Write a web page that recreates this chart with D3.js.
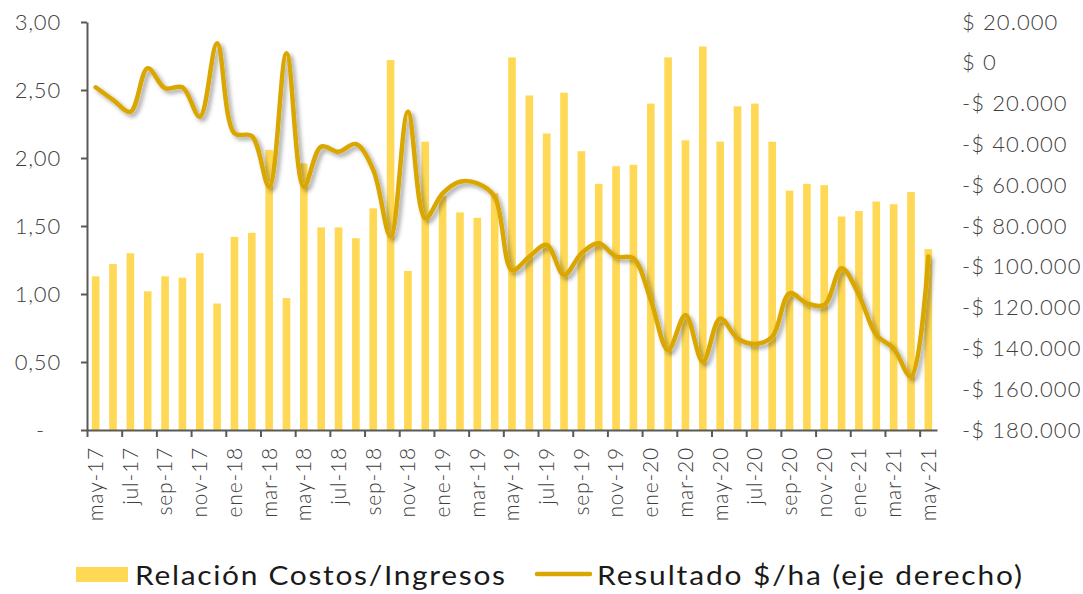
<!DOCTYPE html>
<html>
<head>
<meta charset="utf-8">
<script src="https://cdn.jsdelivr.net/npm/d3@7"></script>
<style>
  body { margin: 0; background: #fff; }
  svg text { font-family: Lato, "Noto Sans", sans-serif; font-weight: 300; }
</style>
</head>
<body>
<div id="chart"></div>
<script>
// Monthly series, may-17 .. may-21
const months = ["may-17","jun-17","jul-17","ago-17","sep-17","oct-17","nov-17","dic-17",
  "ene-18","feb-18","mar-18","abr-18","may-18","jun-18","jul-18","ago-18","sep-18","oct-18","nov-18","dic-18",
  "ene-19","feb-19","mar-19","abr-19","may-19","jun-19","jul-19","ago-19","sep-19","oct-19","nov-19","dic-19",
  "ene-20","feb-20","mar-20","abr-20","may-20","jun-20","jul-20","ago-20","sep-20","oct-20","nov-20","dic-20",
  "ene-21","feb-21","mar-21","abr-21","may-21"];

// Relación Costos/Ingresos (left axis)
const ratio = [1.13,1.22,1.30,1.02,1.13,1.12,1.30,0.93,1.42,1.45,2.06,0.97,1.96,1.49,1.49,1.41,
  1.63,2.72,1.17,2.12,1.72,1.60,1.56,1.74,2.74,2.46,2.18,2.48,2.05,1.81,1.94,1.95,
  2.40,2.74,2.13,2.82,2.12,2.38,2.40,2.12,1.76,1.81,1.80,1.57,1.61,1.68,1.66,1.75,1.33];

// Resultado $/ha (right axis)
const resultado = [-12000,-18200,-24000,-2700,-12500,-12000,-26400,9600,-34600,-35900,-60700,4700,
  -60700,-41100,-43600,-39800,-52500,-85200,-24000,-76200,-64000,-58300,-59100,-65600,
  -101600,-95000,-89300,-104000,-93400,-88500,-95000,-95800,-116300,-140800,-123600,-146500,
  -125300,-135100,-137800,-134300,-113000,-117900,-118700,-100700,-113800,-133400,-140000,-153900,-95000];

const leftTicks = [0, 0.5, 1, 1.5, 2, 2.5, 3];
const rightTicks = [20000, 0, -20000, -40000, -60000, -80000, -100000, -120000, -140000, -160000, -180000];
const legendLabels = ["Relación Costos/Ingresos", "Resultado $/ha (eje derecho)"];

const W = 1083, H = 594;
const plot = {left: 87, right: 937, top: 22, bottom: 430};
const barColor = "#FFD955", lineColor = "#DAA600", axisColor = "#595959", tickText = "#404040";

const es = d3.formatLocale({decimal: ",", thousands: ".", grouping: [3], currency: ["$", ""]});
const fmtLeft = es.format(".2f");
const fmtThousands = es.format(",.0f");

const svg = d3.select("#chart").append("svg")
  .attr("width", W).attr("height", H);

const defs = svg.append("defs");
const shadow = defs.append("filter").attr("id", "shadow")
  .attr("x", "-10%").attr("y", "-10%").attr("width", "120%").attr("height", "130%");
shadow.append("feDropShadow")
  .attr("dx", 3).attr("dy", 3).attr("stdDeviation", 2.2)
  .attr("flood-color", "#000").attr("flood-opacity", 0.35);

const x = d3.scaleBand().domain(months).range([plot.left, plot.right])
  .paddingInner(0.56).paddingOuter(0.28);
const xIdx = d3.scaleLinear().domain([0, months.length]).range([plot.left, plot.right]);
const yL = d3.scaleLinear().domain([0, 3]).range([plot.bottom, plot.top]);
const yR = d3.scaleLinear().domain([-180000, 20000]).range([plot.bottom, plot.top]);

// bars
svg.append("g").selectAll("rect")
  .data(ratio)
  .join("rect")
  .attr("x", (d, i) => x(months[i]))
  .attr("y", d => yL(d))
  .attr("width", x.bandwidth())
  .attr("height", d => yL(0) - yL(d))
  .attr("fill", barColor);

// left axis
const axL = svg.append("g")
  .attr("transform", `translate(${plot.left},0)`)
  .call(d3.axisLeft(yL).tickValues(leftTicks).tickSize(6).tickSizeOuter(0).tickPadding(20)
    .tickFormat(d => d === 0 ? "-" : fmtLeft(d)));
axL.select(".domain").attr("stroke", axisColor).attr("stroke-width", 2);
axL.selectAll(".tick line").attr("stroke", axisColor).attr("stroke-width", 2);
axL.selectAll(".tick text").attr("fill", tickText).style("font-size", "22px").style("letter-spacing", "0.8px");
axL.selectAll(".tick text").filter(d => d === 0).attr("x", -42);

// right axis (labels only)
const axR = svg.append("g")
  .attr("transform", `translate(${plot.right + 25},0)`)
  .call(d3.axisRight(yR).tickValues(rightTicks).tickSize(0).tickPadding(0)
    .tickFormat(d => (d < 0 ? "-$ " : "$ ") + fmtThousands(Math.abs(d))));
axR.select(".domain").remove();
axR.selectAll(".tick text").attr("fill", tickText).style("font-size", "22px").style("letter-spacing", "1.1px");

// bottom axis: tick marks on category boundaries
const axB = svg.append("g")
  .attr("transform", `translate(0,${plot.bottom})`)
  .call(d3.axisBottom(xIdx).tickValues(d3.range(0, months.length, 2)).tickSize(7).tickSizeOuter(0).tickFormat(""));
axB.select(".domain").attr("stroke", axisColor).attr("stroke-width", 2);
axB.selectAll(".tick line").attr("stroke", axisColor).attr("stroke-width", 2);

// bottom labels at category centres, every second month
const axLab = svg.append("g")
  .attr("transform", `translate(0,${plot.bottom})`)
  .call(d3.axisBottom(x).tickValues(months.filter((m, i) => i % 2 === 0)).tickSize(0));
axLab.select(".domain").remove();
axLab.selectAll(".tick text")
  .attr("fill", tickText).style("font-size", "21px").style("letter-spacing", "0.8px")
  .attr("transform", "rotate(-90)")
  .attr("text-anchor", "end")
  .attr("x", -17).attr("y", 0).attr("dy", "0.35em");

// line
const line = d3.line()
  .x((d, i) => x(months[i]) + x.bandwidth() / 2)
  .y(d => yR(d))
  .curve(d3.curveCatmullRom.alpha(0.5));

svg.append("path")
  .datum(resultado)
  .attr("d", line)
  .attr("fill", "none")
  .attr("stroke", lineColor)
  .attr("stroke-width", 4.5)
  .attr("stroke-linejoin", "round")
  .attr("stroke-linecap", "round")
  .attr("filter", "url(#shadow)");

// legend (text widened a little to match the wide reference face)
const lg = svg.append("g");
lg.append("rect").attr("x", 76).attr("y", 567).attr("width", 52).attr("height", 15).attr("fill", barColor);
lg.append("g").attr("transform", "translate(135,585) scale(1.15,1)")
  .append("text").text(legendLabels[0])
  .attr("fill", "#1a1a1a").style("font-size", "26px").style("font-weight", 400)
  .attr("textLength", 370 / 1.15).attr("lengthAdjust", "spacing");
lg.append("line").attr("x1", 537).attr("x2", 590).attr("y1", 574).attr("y2", 574)
  .attr("stroke", lineColor).attr("stroke-width", 4.5).attr("stroke-linecap", "round");
lg.append("g").attr("transform", "translate(597,585) scale(1.15,1)")
  .append("text").text(legendLabels[1])
  .attr("fill", "#1a1a1a").style("font-size", "26px").style("font-weight", 400)
  .attr("textLength", 425 / 1.15).attr("lengthAdjust", "spacing");
</script>
</body>
</html>
